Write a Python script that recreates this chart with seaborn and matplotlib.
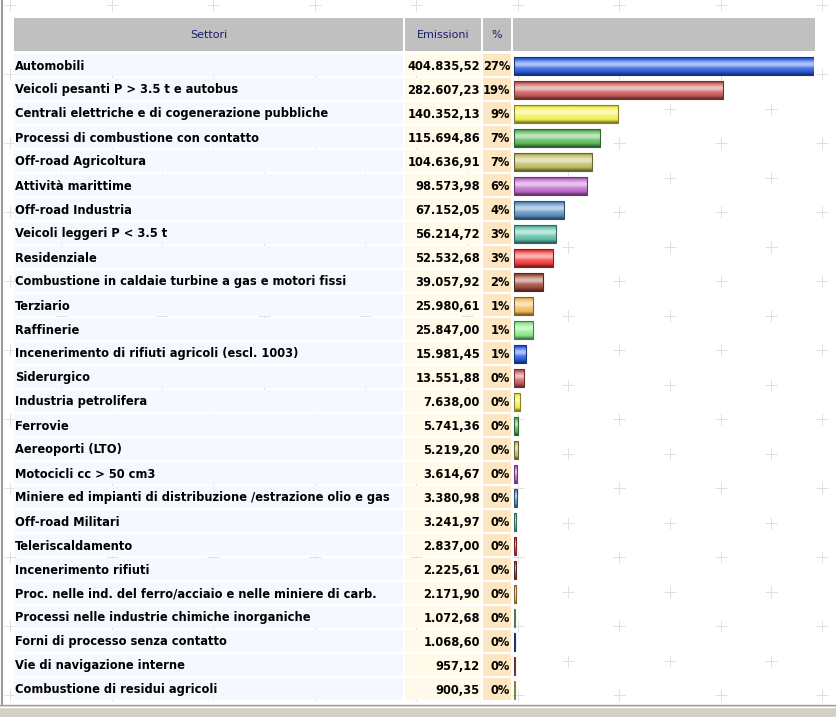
import numpy as np
import pandas as pd
import matplotlib
matplotlib.use("Agg")
import matplotlib.pyplot as plt
import seaborn as sns
from matplotlib import font_manager as fm
from matplotlib.colors import to_rgb
from matplotlib.patches import Rectangle

# ---------------- data ----------------
settori = [
    "Automobili",
    "Veicoli pesanti P > 3.5 t e autobus",
    "Centrali elettriche e di cogenerazione pubbliche",
    "Processi di combustione con contatto",
    "Off-road Agricoltura",
    "Attività marittime",
    "Off-road Industria",
    "Veicoli leggeri P < 3.5 t",
    "Residenziale",
    "Combustione in caldaie turbine a gas e motori fissi",
    "Terziario",
    "Raffinerie",
    "Incenerimento di rifiuti agricoli (escl. 1003)",
    "Siderurgico",
    "Industria petrolifera",
    "Ferrovie",
    "Aereoporti (LTO)",
    "Motocicli cc > 50 cm3",
    "Miniere ed impianti di distribuzione /estrazione olio e gas",
    "Off-road Militari",
    "Teleriscaldamento",
    "Incenerimento rifiuti",
    "Proc. nelle ind. del ferro/acciaio e nelle miniere di carb.",
    "Processi nelle industrie chimiche inorganiche",
    "Forni di processo senza contatto",
    "Vie di navigazione interne",
    "Combustione di residui agricoli",
]
emissioni = [404835.52, 282607.23, 140352.13, 115694.86, 104636.91, 98573.98,
             67152.05, 56214.72, 52532.68, 39057.92, 25980.61, 25847.00,
             15981.45, 13551.88, 7638.00, 5741.36, 5219.20, 3614.67, 3380.98,
             3241.97, 2837.00, 2225.61, 2171.90, 1072.68, 1068.60, 957.12, 900.35]
percentuali = [27, 19, 9, 7, 7, 6, 4, 3, 3, 2, 1, 1, 1, 0, 0, 0, 0, 0, 0, 0,
               0, 0, 0, 0, 0, 0, 0]
intestazioni = ["Settori", "Emissioni", "%"]
palette12 = ["#2a5ce0", "#c85858", "#f2f04c", "#58b858", "#bdbb5e", "#bf66cc",
             "#5a8fc0", "#5cbfa8", "#f23a3a", "#a04a3c", "#f0b858", "#86ea86"]

# ---------------- helpers ----------------
def fmt_it(v):
    s = f"{v:,.2f}"
    return s.replace(",", "X").replace(".", ",").replace("X", ".")

def shade(c, f):
    c = np.array(to_rgb(c))
    if f >= 0:
        return c + (1 - c) * f
    return c * (1 + f)

def gloss(c, n=64):
    stops = [(0.0, -0.5), (0.07, -0.1), (0.2, 0.3), (0.36, 0.65), (0.46, 0.6),
             (0.6, 0.2), (0.8, 0.0), (0.92, -0.3), (1.0, -0.55)]
    ts = np.linspace(0, 1, n)
    xs = [s[0] for s in stops]
    fs = np.interp(ts, xs, [s[1] for s in stops])
    return np.array([shade(c, f) for f in fs]).reshape(n, 1, 3)

# ---------------- figure ----------------
W, H = 836, 717
sns.set_theme(style="white")
plt.rcParams["font.family"] = ["DejaVu Sans"]

names = {f.name for f in fm.fontManager.ttflist}
if "Liberation Sans Narrow" in names:
    cond = dict(family="Liberation Sans Narrow", weight="bold")
else:
    cond = dict(family="DejaVu Sans", weight="bold", stretch="condensed")

fig = plt.figure(figsize=(W / 100, H / 100), dpi=100)
fig.patch.set_facecolor("white")
bg = fig.add_axes([0, 0, 1, 1])
bg.set_xlim(0, W)
bg.set_ylim(H, 0)
bg.axis("off")

# background crosses
cx, cy = [], []
for k in range(22):
    yy = 5 + 34.5 * k
    off = 0 if k % 2 == 0 else 50.75
    for j in range(-1, 9):
        xx = 10 + off + 101.5 * j
        if 0 <= xx <= W:
            cx.append(xx)
            cy.append(yy)
bg.scatter(cx, cy, marker="+", s=70, color="#e0e0e0", linewidths=0.7, zorder=0)

# header
cols = [(14, 389), (405, 76), (483, 28), (513, 302)]
for (x0, w) in cols:
    bg.add_patch(Rectangle((x0, 18), w, 33, fc="#c0c0c0", ec="none", zorder=1))
for (x0, w), t in zip(cols[:3], intestazioni):
    bg.text(x0 + w / 2, 35, t, ha="center", va="center", fontsize=8,
            color="#1c1c6c", zorder=3)

n = len(settori)
row0, pitch = 54, 24
for i in range(n):
    y0 = row0 + pitch * i
    bg.add_patch(Rectangle((14, y0), 389, 22, fc="#f6f8ff", ec="none", zorder=1))
    bg.add_patch(Rectangle((405, y0), 76, 22, fc="#fffaea", ec="none", zorder=1))
    bg.add_patch(Rectangle((483, y0), 28, 22, fc="#fde6c2", ec="none", zorder=1))

lab_txt, num_txt, pct_txt = [], [], []
for i in range(n):
    yc = row0 + pitch * i + 12
    lab_txt.append(bg.text(15, yc, settori[i], ha="left", va="center",
                           fontsize=10, color="black", zorder=3, **cond))
    num_txt.append(bg.text(480, yc, fmt_it(emissioni[i]), ha="right", va="center",
                           fontsize=10, color="black", zorder=3, **cond))
    pct_txt.append(bg.text(510, yc, f"{percentuali[i]}%", ha="right", va="center",
                           fontsize=10, color="black", zorder=3, **cond))

# fit font sizes to reference widths
rend = fig.canvas.get_renderer()
iw = settori.index("Miniere ed impianti di distribuzione /estrazione olio e gas")
s_lab = 10 * 370 / lab_txt[iw].get_window_extent(rend).width
s_num = 10 * 73 / num_txt[0].get_window_extent(rend).width
s = min(s_lab, s_num)
for t in lab_txt + num_txt + pct_txt:
    t.set_fontsize(s)

# bottom status bar and left border
bg.add_patch(Rectangle((0, 705), W, 12, fc="#d4d0c8", ec="none", zorder=4))
bg.plot([0, W], [705, 705], color="#a0a0a0", lw=1, zorder=5)
bg.plot([0, W], [706.5, 706.5], color="#ffffff", lw=1, zorder=5)
bg.plot([2, 2], [0, 705], color="#9a9a9a", lw=1.5, zorder=5)

# ---------------- bars ----------------
ax = fig.add_axes([514 / W, (H - (row0 + pitch * n)) / H, 300 / W, pitch * n / H])
ax.patch.set_alpha(0)
df = pd.DataFrame({"Settore": settori, "Emissioni": emissioni})
colors = [palette12[i % 12] for i in range(n)]
sns.barplot(data=df, x="Emissioni", y="Settore", hue="Settore", palette=colors,
            legend=False, orient="h", width=0.75, saturation=1, ax=ax)

for p, c in zip(list(ax.patches), colors):
    x0, w = p.get_x(), p.get_width()
    y0, h = p.get_y(), p.get_height()
    im = ax.imshow(gloss(c), extent=(x0, x0 + w, y0 + h, y0), origin="upper",
                   aspect="auto", interpolation="bilinear", zorder=3)
    im.set_clip_path(p)
    ax.add_patch(Rectangle((x0, y0), w, h, fill=False, ec=shade(c, -0.45),
                           lw=0.8, zorder=4))

ax.set_xlim(0, max(emissioni))
ax.set_ylim(n - 0.5, -0.5)
ax.axis("off")

fig.savefig("out.png", dpi=100)
